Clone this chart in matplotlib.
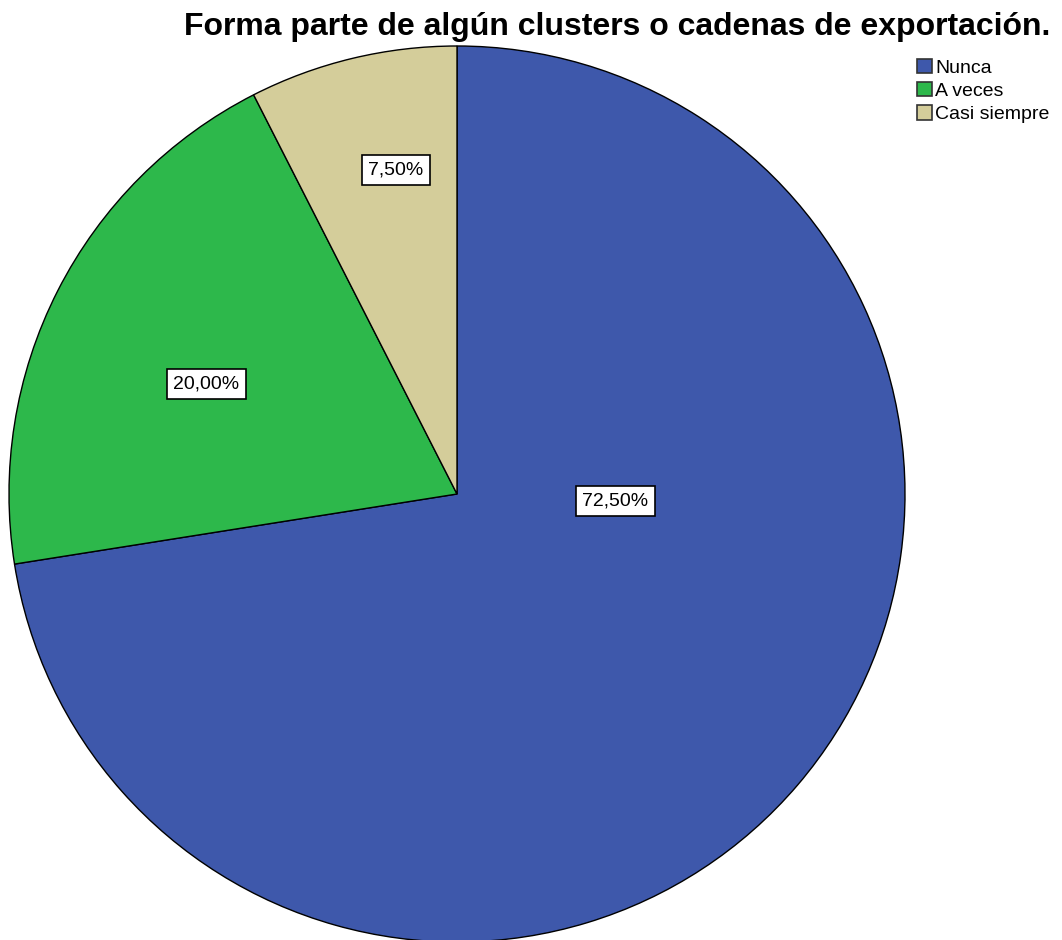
import matplotlib
matplotlib.use('Agg')
import matplotlib.pyplot as plt
from matplotlib.patches import Patch

plt.rcParams['font.family'] = ['Liberation Sans', 'DejaVu Sans']

categories = ['Nunca', 'A veces', 'Casi siempre']
values = [72.5, 20.0, 7.5]
labels = ['72,50%', '20,00%', '7,50%']
colors = ['#3e58ab', '#2db84b', '#d4cd9a']
# label positions in data units (pie radius = 1)
label_pos = [(0.353, -0.016), (-0.560, 0.246), (-0.136, 0.723)]

W, H = 1062, 940
fig = plt.figure(figsize=(W / 100, H / 100), dpi=100)
ax = fig.add_axes([9 / W, (H - 942) / H, 896 / W, 896 / H])

ax.pie(values, colors=colors, startangle=90, counterclock=False, radius=1,
       wedgeprops=dict(edgecolor='black', linewidth=1))
ax.set_xlim(-1, 1)
ax.set_ylim(-1, 1)
ax.set_aspect('equal')
ax.axis('off')

for (x, y), lab in zip(label_pos, labels):
    ax.text(x, y, lab, ha='center', va='center', fontsize=14,
            bbox=dict(boxstyle='square,pad=0.33', fc='white', ec='black', lw=1.2))

fig.text(617 / W, 1 - 35 / H, 'Forma parte de algún clusters o cadenas de exportación.',
         ha='center', va='baseline', fontsize=23, fontweight='bold')

handles = [Patch(facecolor=c, edgecolor='#333333', lw=1.2, label=n)
           for c, n in zip(colors, categories)]
fig.legend(handles=handles, loc='upper left', bbox_to_anchor=(917 / W, 1 - 59 / H),
           frameon=False, fontsize=14, handlelength=0.75, handleheight=0.75,
           handletextpad=0.2, labelspacing=0.27, borderpad=0, borderaxespad=0)

fig.savefig('out.png', dpi=100)
